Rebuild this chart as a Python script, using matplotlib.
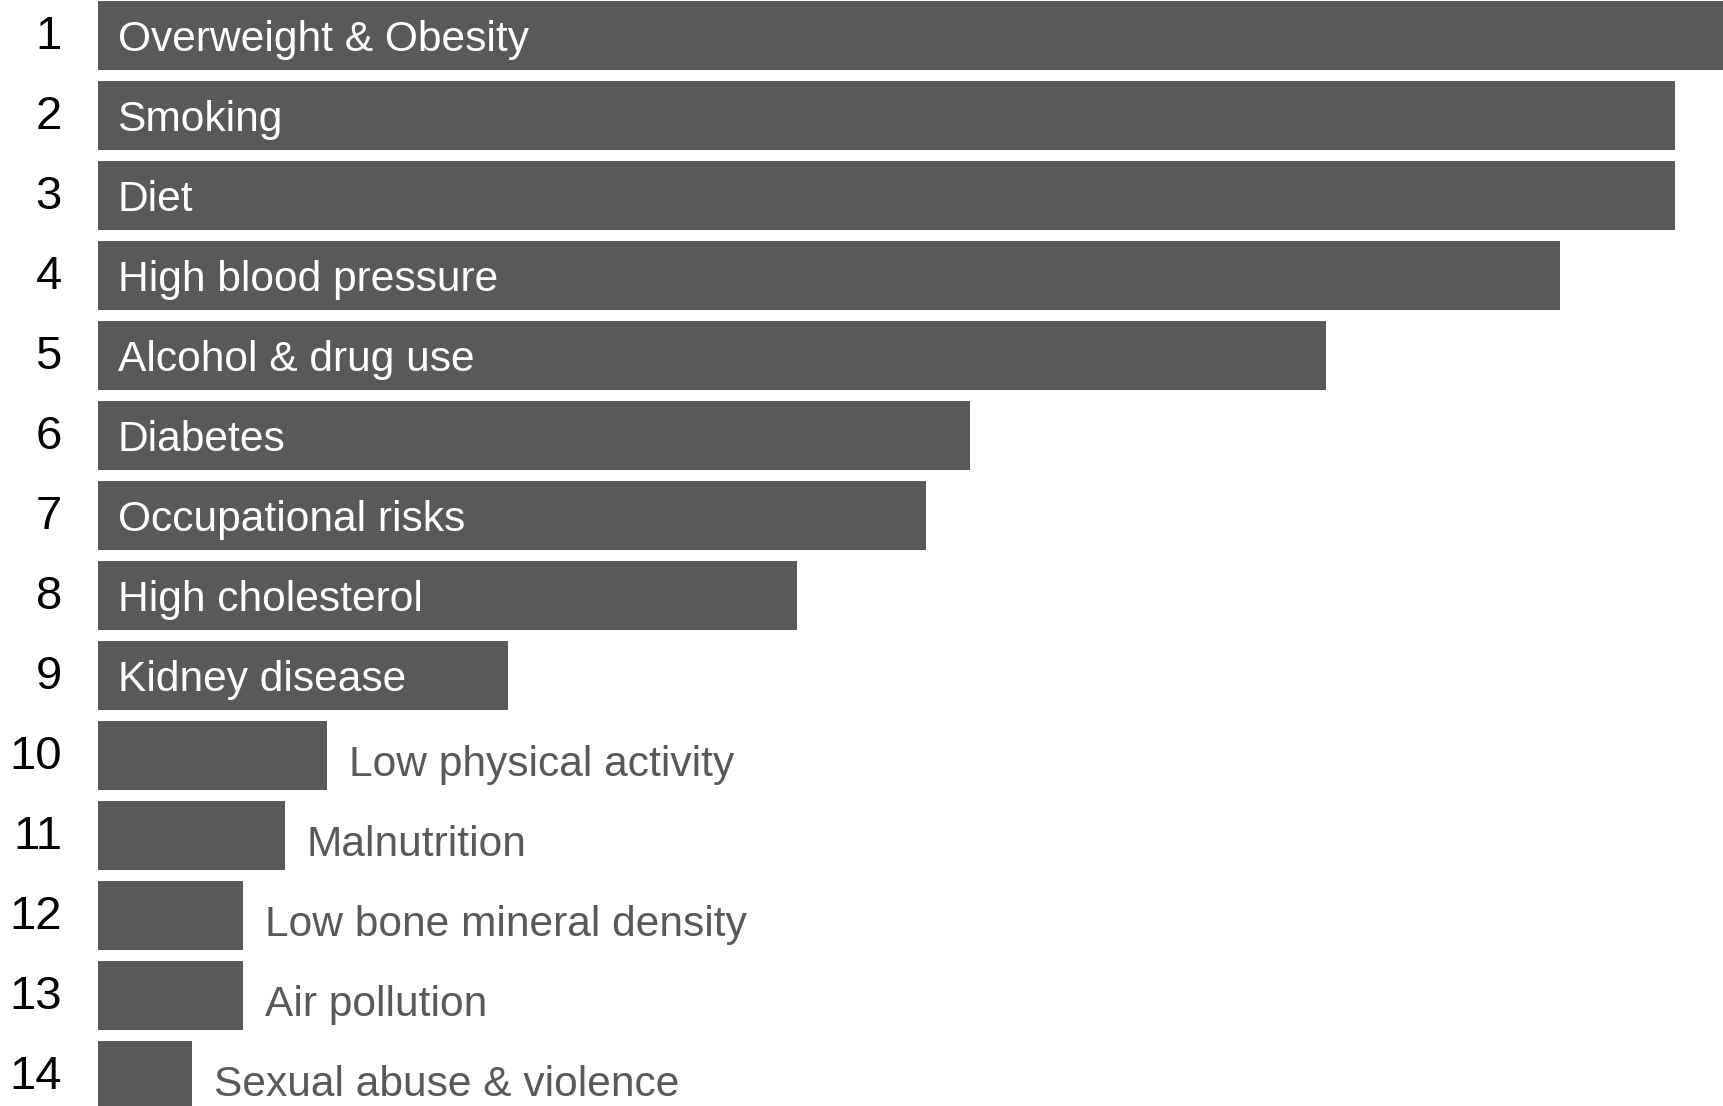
import matplotlib as mpl
import matplotlib.pyplot as plt
import numpy as np

# risk factors, ranked
ranks = list(range(1, 15))
risks = ['Overweight & Obesity', 'Smoking', 'Diet', 'High blood pressure',
         'Alcohol & drug use', 'Diabetes', 'Occupational risks', 'High cholesterol',
         'Kidney disease', 'Low physical activity', 'Malnutrition',
         'Low bone mineral density', 'Air pollution', 'Sexual abuse & violence']
scores = [104.0, 97.0, 97.0, 89.9, 75.5, 53.6, 50.9, 43.0, 25.2, 14.1, 11.5, 8.9, 8.9, 5.8]

mpl.rcParams['font.family'] = ['Liberation Sans', 'DejaVu Sans']

bar_color = '#595959'
n_inside = 9  # labels of the first 9 bars sit inside the bar
fs = 30.6

fig = plt.figure(figsize=(17.24, 11.06), dpi=100)
x0 = 98 / 1724.0
ax = fig.add_axes([x0, 0, 1 - x0, 1])

ypos = np.arange(len(scores))
ax.barh(ypos, scores, height=0.8625, color=bar_color, edgecolor='none')

ax.set_xlim(0, 100)
ax.set_ylim((1106 - 35.5) / 80.0, -35.5 / 80.0)

# baseline shift so the capitals sit centred on the bar
cap = 0.716 * fs * 100 / 72.0 / 2 / 80.0

for i, (name, val) in enumerate(zip(risks, scores)):
    if i < n_inside:
        ax.text(1.2, i + cap, name, color='white', fontsize=fs, va='baseline', ha='left')
    else:
        ax.text(val + 1.35, i + cap + 0.07, name, color=bar_color, fontsize=fs,
                va='baseline', ha='left')

ax.set_yticks(ypos - 0.04)
ax.set_yticklabels([str(r) for r in ranks], fontsize=34, color='black')
ax.tick_params(axis='y', length=0, pad=26)
ax.set_xticks([])
for s in ax.spines.values():
    s.set_visible(False)

fig.savefig('out.png', dpi=100)
